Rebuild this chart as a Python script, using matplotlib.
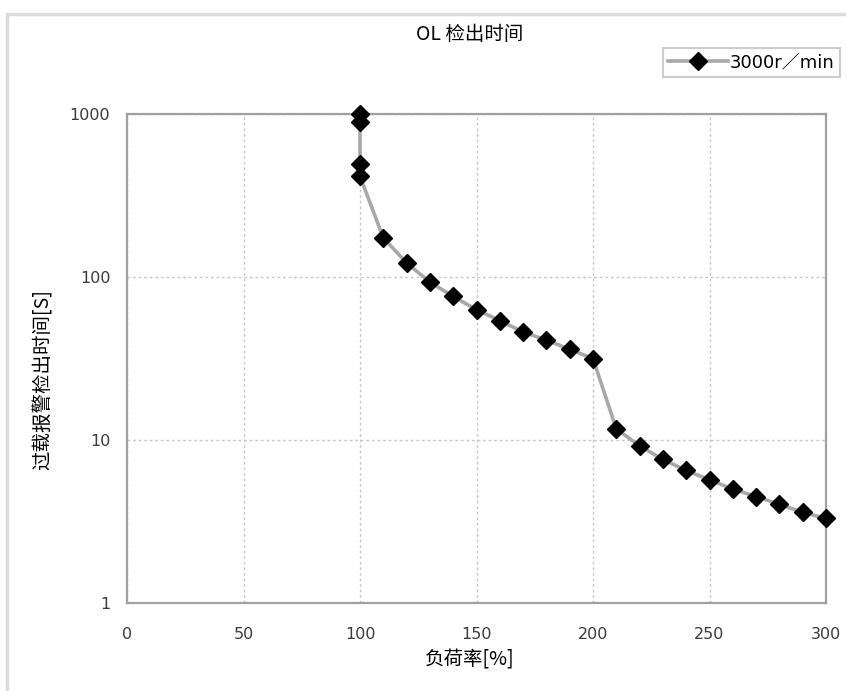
import matplotlib
matplotlib.use("Agg")
import matplotlib.pyplot as plt
from matplotlib.patches import Rectangle

plt.rcParams['font.family'] = ['Noto Sans CJK SC', 'DejaVu Sans']

# load ratio [%] vs overload alarm detection time [s]
load_pct = [100, 100, 100, 100, 110, 120, 130, 140, 150, 160, 170, 180, 190, 200,
            210, 220, 230, 240, 250, 260, 270, 280, 290, 300]
detect_s = [1000, 890, 490, 415, 174, 122, 93, 76, 63, 54, 46, 41, 36, 31.6,
            11.7, 9.2, 7.6, 6.5, 5.7, 5.0, 4.5, 4.03, 3.6, 3.3]
series_label = "3000r／min"
x_ticks = [0, 50, 100, 150, 200, 250, 300]
y_ticks = [1, 10, 100, 1000]

fig = plt.figure(figsize=(8.46, 6.91), dpi=100)

# light frame around the chart area (cut off at right/bottom like the source)
fig.patches.append(Rectangle((7 / 846, -0.1), 1.2, 1 - 14 / 691 + 0.1,
                             transform=fig.transFigure, fill=False,
                             edgecolor="#dcdcdc", linewidth=2.5))

ax = fig.add_axes([127 / 846, 1 - 603 / 691, (826 - 127) / 846, (603 - 114) / 691])

line, = ax.plot(load_pct, detect_s, color="#a8a8a8", linewidth=2.6,
                marker="D", markersize=9.5, markerfacecolor="black",
                markeredgecolor="black", label=series_label, zorder=3,
                clip_on=False)

ax.set_yscale("log")
ax.set_xlim(0, 300)
ax.set_ylim(1, 1000)
ax.set_xticks(x_ticks)
ax.set_yticks(y_ticks)
ax.set_yticklabels([str(v) for v in y_ticks])
ax.minorticks_off()
ax.tick_params(length=0, labelsize=11.5, colors="#3a3a3a", pad=12)
ax.tick_params(axis="x", pad=17)
for lab in ax.get_xticklabels() + ax.get_yticklabels():
    lab.set_family(["DejaVu Sans"])

ax.grid(True, color="#c8c8c8", linestyle=(0, (2, 2)), linewidth=1)
for s in ax.spines.values():
    s.set_color("#a0a0a0")
    s.set_linewidth(1.6)

fig.text(470 / 846, 1 - 660 / 691, "负荷率[%]", ha="center", va="center", fontsize=14)
fig.text(43 / 846, 1 - 380 / 691, "过载报警检出时间[S]", ha="center", va="center",
         rotation=90, fontsize=14)
fig.text(470 / 846, 1 - 35 / 691, "OL 检出时间", ha="center", va="center", fontsize=14)

leg = fig.legend(handles=[line], loc="upper left",
                 bbox_to_anchor=(663 / 846, 1 - 48 / 691),
                 frameon=True, fancybox=False,
                 prop={"family": ["DejaVu Sans", "Noto Sans CJK SC"], "size": 13},
                 handlelength=3.3, borderpad=0.3, handletextpad=0.1,
                 borderaxespad=0)
leg.get_frame().set_edgecolor("#c0c0c0")
leg.get_frame().set_linewidth(1.5)

fig.savefig("out.png", dpi=100)
